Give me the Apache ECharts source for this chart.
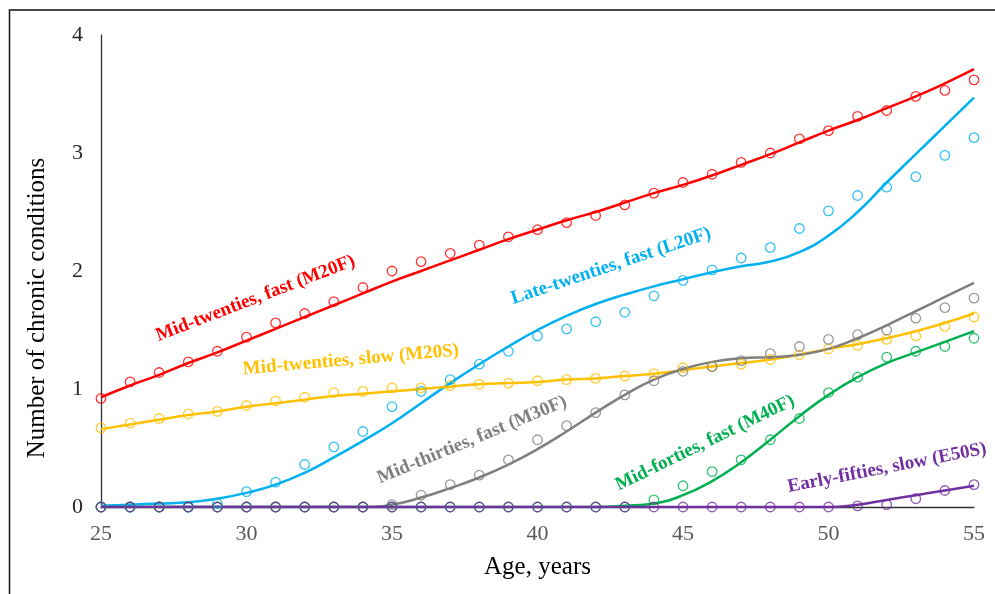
<!DOCTYPE html>
<html>
<head>
<meta charset="utf-8">
<script src="https://cdn.jsdelivr.net/npm/echarts@6/dist/echarts.min.js"></script>
<style>html,body{margin:0;padding:0;background:#fff;}#c{width:995px;height:594px;}</style>
</head>
<body>
<div id="c"></div>
<script>
const ages = [25,26,27,28,29,30,31,32,33,34,35,36,37,38,39,40,41,42,43,44,45,46,47,48,49,50,51,52,53,54,55];

const m20fObs = [0.92,1.06,1.14,1.23,1.32,1.44,1.56,1.64,1.74,1.86,2.00,2.08,2.15,2.22,2.29,2.35,2.41,2.47,2.56,2.66,2.75,2.82,2.92,3.00,3.12,3.19,3.31,3.36,3.48,3.53,3.62];
const m20fFit = [0.93,1.03,1.12,1.22,1.31,1.41,1.51,1.61,1.71,1.81,1.91,2.00,2.09,2.18,2.27,2.35,2.43,2.50,2.58,2.66,2.73,2.81,2.90,2.99,3.09,3.19,3.28,3.38,3.48,3.59,3.71];

const l20fObs = [0,0,0,0,0.03,0.13,0.21,0.36,0.51,0.64,0.85,0.98,1.08,1.21,1.32,1.45,1.51,1.57,1.65,1.79,1.92,2.01,2.11,2.20,2.36,2.51,2.64,2.71,2.80,2.98,3.13];
const l20fFit = [0.01,0.02,0.03,0.04,0.07,0.12,0.19,0.29,0.42,0.56,0.71,0.88,1.05,1.21,1.36,1.50,1.62,1.72,1.80,1.87,1.93,1.99,2.04,2.08,2.16,2.30,2.50,2.75,2.99,3.23,3.47];

const m20sObs = [0.67,0.71,0.75,0.79,0.81,0.86,0.90,0.93,0.97,0.98,1.01,1.01,1.03,1.04,1.05,1.07,1.08,1.09,1.11,1.13,1.18,1.19,1.21,1.25,1.29,1.34,1.37,1.42,1.45,1.53,1.61];
const m20sFit = [0.66,0.70,0.74,0.78,0.81,0.85,0.88,0.91,0.94,0.96,0.98,1.00,1.02,1.04,1.05,1.06,1.08,1.09,1.11,1.13,1.16,1.19,1.22,1.25,1.29,1.34,1.38,1.43,1.49,1.56,1.64];

const m30fObs = [0,0,0,0,0,0,0,0,0,0,0.02,0.10,0.19,0.27,0.40,0.57,0.69,0.80,0.95,1.07,1.15,1.19,1.24,1.30,1.36,1.42,1.46,1.50,1.60,1.69,1.77];
const m30fFit = [0,0,0,0,0,0,0,0,0,0,0.02,0.08,0.16,0.25,0.36,0.49,0.64,0.80,0.95,1.08,1.17,1.23,1.26,1.27,1.29,1.34,1.43,1.54,1.66,1.78,1.90];

const m40fObs = [0,0,0,0,0,0,0,0,0,0,0,0,0,0,0,0,0,0,0,0.06,0.18,0.30,0.40,0.57,0.75,0.97,1.10,1.27,1.32,1.36,1.43];
const m40fFit = [0,0,0,0,0,0,0,0,0,0,0,0,0,0,0,0,0,0,0.01,0.03,0.10,0.22,0.38,0.57,0.77,0.95,1.10,1.22,1.31,1.40,1.49];

const e50sObs = [0,0,0,0,0,0,0,0,0,0,0,0,0,0,0,0,0,0,0,0,0,0,0,0,0,0,0.01,0.02,0.07,0.14,0.19];
const e50sFit = [0,0,0,0,0,0,0,0,0,0,0,0,0,0,0,0,0,0,0,0,0,0,0,0,0,0,0.02,0.06,0.10,0.14,0.18];

const xTicks = [25,30,35,40,45,50,55];
const yTicks = [0,1,2,3,4];

const seriesDefs = [
  {name:'Mid-twenties, fast (M20F)', obs:m20fObs, fit:m20fFit, color:'#FF0000'},
  {name:'Late-twenties, fast (L20F)', obs:l20fObs, fit:l20fFit, color:'#00B0F0'},
  {name:'Mid-twenties, slow (M20S)', obs:m20sObs, fit:m20sFit, color:'#FFC000'},
  {name:'Mid-thirties, fast (M30F)', obs:m30fObs, fit:m30fFit, color:'#7F7F7F'},
  {name:'Mid-forties, fast (M40F)', obs:m40fObs, fit:m40fFit, color:'#00B050'},
  {name:'Early-fifties, slow (E50S)', obs:e50sObs, fit:e50sFit, color:'#7030A0'}
];

// label anchors in data coordinates (age, value) and rotation in degrees
const labelAnchors = [
  {name:'Mid-twenties, fast (M20F)', at:[30.31,1.767], rot:21, color:'#FF0000'},
  {name:'Mid-twenties, slow (M20S)', at:[33.59,1.246], rot:5, color:'#FFC000'},
  {name:'Late-twenties, fast (L20F)', at:[42.53,2.042], rot:18.5, color:'#00B0F0'},
  {name:'Mid-thirties, fast (M30F)', at:[37.75,0.568], rot:22.5, color:'#7F7F7F'},
  {name:'Mid-forties, fast (M40F)', at:[45.76,0.542], rot:26, color:'#00B050'},
  {name:'Early-fifties, slow (E50S)', at:[52.01,0.331], rot:11, color:'#7030A0'}
];

const FONT = '"Liberation Serif","Times New Roman",serif';
const chart = echarts.init(document.getElementById('c'), null, {renderer:'canvas'});

const series = [];
seriesDefs.forEach(d => {
  series.push({
    type:'line', name:d.name+' fit', data: ages.map((a,i)=>[a,d.fit[i]]),
    smooth:0.5, showSymbol:false, symbol:'none',
    lineStyle:{color:d.color, width:2.5}, z:2, animation:false, silent:true
  });
});
seriesDefs.forEach(d => {
  series.push({
    type:'scatter', name:d.name+' obs', data: ages.map((a,i)=>[a,d.obs[i]]),
    symbol:'circle', symbolSize:9.5,
    itemStyle:{color:'rgba(255,255,255,0)', borderColor:d.color, borderWidth:1.3},
    z:3, animation:false, silent:true
  });
});

chart.setOption({
  backgroundColor:'#ffffff',
  animation:false,
  grid:{left:101, right:21, top:35, bottom:87, containLabel:false},
  xAxis:{
    type:'value', min:25, max:55, interval:5,
    axisLine:{show:true, lineStyle:{color:'#333333', width:1.3}},
    axisTick:{show:false}, splitLine:{show:false},
    axisLabel:{color:'#595959', fontSize:22, fontFamily:FONT, margin:16,
      formatter: v => xTicks.includes(v) ? String(v) : ''},
    name:'Age, years', nameLocation:'middle', nameGap:48,
    nameTextStyle:{color:'#000000', fontSize:25, fontFamily:FONT}
  },
  yAxis:{
    type:'value', min:0, max:4, interval:1,
    axisLine:{show:true, lineStyle:{color:'#333333', width:1.3}},
    axisTick:{show:false}, splitLine:{show:false},
    axisLabel:{color:'#262626', fontSize:22, fontFamily:FONT, margin:18,
      formatter: v => yTicks.includes(v) ? String(v) : ''}
  },
  series: series
});

const graphics = [
  {type:'rect', shape:{x:9.5, y:10, width:1000, height:1000}, style:{fill:'none', stroke:'#111', lineWidth:1.5}, z:100, silent:true},
  {type:'text', x:37, y:308, rotation:Math.PI/2,
   style:{text:'Number of chronic conditions', fill:'#000', font:'25px '+FONT, align:'center', verticalAlign:'middle'}, silent:true}
];
labelAnchors.forEach(l => {
  const p = chart.convertToPixel({gridIndex:0}, l.at);
  graphics.push({type:'text', x:p[0], y:p[1], rotation:l.rot*Math.PI/180, z:50,
    style:{text:l.name, fill:l.color, font:'bold 19px '+FONT, align:'center', verticalAlign:'middle'}, silent:true});
});
chart.setOption({graphic:graphics});
</script>
</body>
</html>
